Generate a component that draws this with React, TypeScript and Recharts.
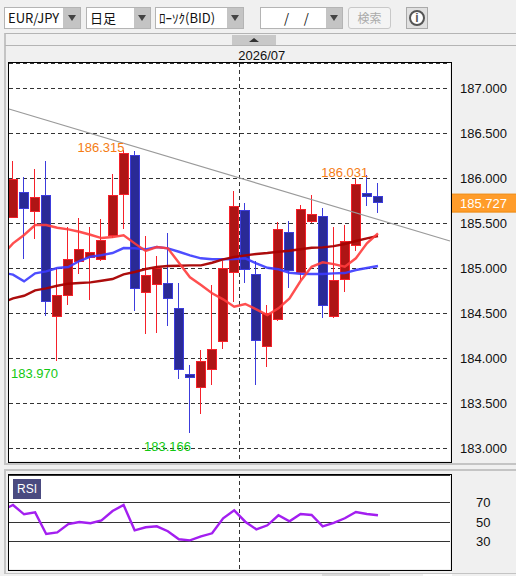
import { Bar, CartesianGrid, ComposedChart, Line, ReferenceDot, ReferenceLine, XAxis, YAxis } from 'recharts'

// index -1 sits just left of the plot, only its line segments show
const days = [-1, 0, 1, 2, 3, 4, 5, 6, 7, 8, 9, 10, 11, 12, 13, 14, 15, 16, 17, 18, 19, 20, 21, 22, 23, 24, 25, 26, 27, 28, 29, 30, 31, 32, 33]
const opens = [null, 185.563, 185.841, 185.63, 185.808, 184.463, 184.697, 185.074, 185.122, 185.097, 185.363, 185.819, 186.252, 184.73, 184.819, 184.83, 184.552, 183.819, 183.674, 183.874, 184.186, 184.952, 185.641, 184.93, 184.133, 184.43, 185.397, 184.952, 185.514, 185.574, 184.463, 184.874, 185.252, 185.83, 185.797]
const closes = [null, 185.986, 185.663, 185.786, 184.63, 184.697, 185.097, 185.208, 185.174, 185.308, 185.808, 186.274, 184.774, 184.919, 185.0, 184.663, 183.874, 183.781, 183.963, 184.097, 184.997, 185.686, 184.986, 184.197, 184.497, 185.43, 184.97, 185.652, 185.597, 184.586, 184.863, 185.297, 185.93, 185.792, 185.727]
const highs = [null, 186.189, 186.011, 186.1, 186.189, 185.0, 185.452, 185.552, 185.452, 185.544, 186.044, 186.315, 186.297, 185.356, 185.133, 185.386, 184.83, 183.922, 184.089, 184.811, 185.078, 185.856, 185.719, 185.078, 184.589, 185.514, 185.519, 185.7, 185.811, 185.663, 185.452, 185.478, 185.986, 186.031, 185.941]
const lows = [null, 185.563, 185.097, 185.326, 184.467, 183.97, 184.592, 184.933, 184.648, 185.081, 185.333, 185.437, 184.522, 184.267, 184.281, 184.356, 183.763, 183.166, 183.381, 183.7, 184.103, 184.626, 184.837, 183.703, 183.903, 184.414, 184.781, 184.867, 185.503, 184.441, 184.441, 184.737, 185.192, 185.692, 185.614]
const maShort = [185.14, 185.274, 185.367, 185.478, 185.478, 185.448, 185.43, 185.403, 185.37, 185.333, 185.344, 185.363, 185.274, 185.189, 185.233, 185.219, 185.059, 184.897, 184.811, 184.719, 184.652, 184.57, 184.6, 184.541, 184.478, 184.552, 184.663, 184.856, 185.014, 185.063, 185.044, 185.014, 185.108, 185.274, 185.386]
const maMid = [184.951, 184.926, 184.852, 184.941, 184.963, 185.0, 185.011, 185.078, 185.126, 185.144, 185.167, 185.222, 185.219, 185.208, 185.233, 185.219, 185.181, 185.141, 185.108, 185.097, 185.097, 185.1, 185.108, 185.052, 185.003, 184.986, 184.948, 184.937, 184.933, 184.933, 184.941, 184.944, 184.978, 185.0, 185.022]
const maLong = [184.611, 184.663, 184.692, 184.752, 184.774, 184.803, 184.826, 184.833, 184.841, 184.859, 184.878, 184.93, 184.956, 184.989, 185.011, 185.022, 185.026, 185.03, 185.03, 185.059, 185.097, 185.122, 185.141, 185.156, 185.167, 185.181, 185.192, 185.208, 185.226, 185.23, 185.244, 185.267, 185.3, 185.33, 185.356]
const rsi = [61.8, 67.4, 57.9, 59.9, 37.7, 39.4, 47.9, 50, 48.7, 51.7, 61.3, 67.4, 41.5, 44.6, 45.6, 40.5, 32.3, 31.2, 35.3, 38.4, 53.8, 62, 50.3, 42.5, 46.6, 56.9, 50.7, 58.2, 57.2, 45.6, 49, 53.8, 60.3, 58.2, 56.9]

const priceTicks = [183, 183.5, 184, 184.5, 185, 185.5, 186, 186.5, 187]
const rsiTicks = [30, 50, 70]
const monthTick = 20.5
const lastPrice = 185.727
const xDomain: [number, number] = [-0.362, 39.512]

const font = '"Liberation Sans", sans-serif'

const data = days.map((day, i) => ({
  day,
  open: opens[i],
  close: closes[i],
  high: highs[i],
  low: lows[i],
  range: lows[i] === null ? null : [lows[i], highs[i]],
  maShort: maShort[i],
  maMid: maMid[i],
  maLong: maLong[i],
  rsi: rsi[i],
}))

function Candle(props: any) {
  const { x, y, width, height, payload } = props
  if (payload.open === null || !height) return null
  const up = payload.close >= payload.open
  const perUnit = height / (payload.high - payload.low)
  const top = y + (payload.high - Math.max(payload.open, payload.close)) * perUnit
  const bottom = y + (payload.high - Math.min(payload.open, payload.close)) * perUnit
  const cx = Math.round(x + width / 2) - 1
  const edge = up ? '#f5212a' : '#3c3cdc'
  return (
    <g shapeRendering="crispEdges">
      <line x1={cx + 0.5} x2={cx + 0.5} y1={y} y2={y + height} stroke={edge} strokeWidth={1} />
      <rect x={cx - 4} y={Math.round(top) + 0.5} width={9} height={Math.max(Math.round(bottom - top), 2)} fill={up ? '#ae1515' : '#2a2a96'} stroke={edge} strokeWidth={1} />
    </g>
  )
}

function PriceBox(props: any) {
  const { cx, cy } = props
  return (
    <g>
      <rect x={cx + 1.5} y={cy - 8.5} width={66} height={18} fill="#ff9c2a" stroke="#ee8a10" />
      <text x={cx + 10} y={cy + 5} fill="#fff" fontSize={13} fontFamily={font}>185.727</text>
    </g>
  )
}

function Select({ left, width, arrowAt, label, center }: { left: number; width: number; arrowAt: number; label: string; center?: boolean }) {
  return (
    <div style={{ position: 'absolute', left, top: 7, width, height: 20, border: '1px solid #b4b4b4', background: '#fff', boxSizing: 'content-box' }}>
      <div style={{ position: 'absolute', left: 3, top: 2, fontSize: 13, lineHeight: '16px', whiteSpace: 'pre', textAlign: center ? 'center' : 'left', width: center ? arrowAt : undefined, fontFamily: '"Noto Sans CJK JP", ' + font }}>{label}</div>
      <div style={{ position: 'absolute', left: arrowAt, top: 0, width: width - arrowAt, height: 20, background: '#c4c4c4' }}>
        <div style={{ position: 'absolute', left: (width - arrowAt) / 2 - 4, top: 7, width: 0, height: 0, borderLeft: '4px solid transparent', borderRight: '4px solid transparent', borderTop: '6px solid #444' }} />
      </div>
    </div>
  )
}

export default function App() {
  return (
    <div style={{ position: 'fixed', left: 0, top: 0, width: 516, height: 576, background: '#f0f0f0', overflow: 'hidden', fontFamily: font, color: '#111' }}>
      <Select left={4} width={75} arrowAt={58} label="EUR/JPY" />
      <Select left={86} width={63} arrowAt={47} label="日足" />
      <Select left={155} width={87} arrowAt={71} label="ﾛｰｿｸ(BID)" />
      <Select left={260} width={81} arrowAt={65} label="/     /" center />
      <div style={{ position: 'absolute', left: 348, top: 7, width: 41, height: 20, border: '1px solid #c8c8c8', borderRadius: 3, background: '#f4f4f4', color: '#aaa', fontSize: 12, lineHeight: '20px', textAlign: 'center', fontFamily: '"Noto Sans CJK JP", ' + font }}>検索</div>
      <div style={{ position: 'absolute', left: 406, top: 7, width: 20, height: 20, border: '1px solid #aaa', background: '#e0e0e0' }}>
        <div style={{ position: 'absolute', left: 2, top: 2, width: 12, height: 12, border: '2px solid #555', borderRadius: 8, background: '#fff', color: '#555', fontSize: 12, fontWeight: 700, lineHeight: '12px', textAlign: 'center' }}>i</div>
      </div>

      {/* panel frames */}
      <div style={{ position: 'absolute', left: 4, top: 33, width: 512, height: 432, borderTop: '1px solid #b4b4b4', borderLeft: '2px solid #c4c4c4', borderBottom: '2px solid #c4c4c4', boxSizing: 'border-box' }} />
      <div style={{ position: 'absolute', left: 5, top: 45, width: 511, height: 1, background: '#b4b4b4' }} />
      <div style={{ position: 'absolute', left: 232, top: 35, width: 44, height: 10, background: '#c8c8c8' }}>
        <div style={{ position: 'absolute', left: 17, top: 3, width: 0, height: 0, borderLeft: '5px solid transparent', borderRight: '5px solid transparent', borderBottom: '4px solid #333' }} />
      </div>
      <div style={{ position: 'absolute', left: 4, top: 469, width: 512, height: 105, borderTop: '2px solid #c4c4c4', borderLeft: '2px solid #c4c4c4', borderBottom: '1px solid #c4c4c4', boxSizing: 'border-box' }} />
      <div style={{ position: 'absolute', left: 322, top: 574, width: 68, height: 2, background: '#d8d8d8' }} />
      <div style={{ position: 'absolute', left: 423, top: 574, width: 29, height: 2, background: '#fff' }} />

      <div style={{ position: 'absolute', left: 9, top: 63, width: 441, height: 398, background: '#fff' }} />
      <div style={{ position: 'absolute', left: 9, top: 475, width: 441, height: 94, background: '#fff' }} />

      <div style={{ position: 'absolute', left: 0, top: 46 }}>
        <ComposedChart width={516} height={415} data={data} margin={{ top: 0, right: 0, bottom: 0, left: 9 }} style={{ fontFamily: font }}>
          <CartesianGrid vertical={false} stroke="#333" strokeDasharray="4 3" shapeRendering="crispEdges" />
          <XAxis dataKey="day" type="number" orientation="top" domain={xDomain} allowDataOverflow ticks={[monthTick]} tickFormatter={() => '2026/07'} height={17} axisLine={false} tickLine={false} tickMargin={0} tick={{ fill: '#111', fontSize: 13, dx: 22, dy: 3 }} />
          <YAxis orientation="right" domain={[182.856, 187.278]} allowDataOverflow ticks={priceTicks} tickFormatter={(v: number) => v.toFixed(3)} width={66} interval={0} axisLine={false} tickLine={false} tickMargin={4} tick={{ fill: '#111', fontSize: 13 }} />
          <ReferenceLine x={monthTick} stroke="#333" strokeDasharray="4 3" shapeRendering="crispEdges" />
          <ReferenceLine segment={[{ x: -0.362, y: 186.767 }, { x: 39.512, y: 185.3 }]} stroke="#9a9a9a" strokeWidth={1.2} />
          <Bar dataKey="range" barSize={9} shape={Candle} isAnimationActive={false} />
          <Line dataKey="maMid" stroke="#3a3aff" strokeWidth={2.4} strokeOpacity={0.9} dot={false} isAnimationActive={false} />
          <Line dataKey="maLong" stroke="#a80000" strokeWidth={2.4} strokeOpacity={0.95} dot={false} isAnimationActive={false} />
          <Line dataKey="maShort" stroke="#ff3c3c" strokeWidth={2.4} strokeOpacity={0.9} dot={false} isAnimationActive={false} />
          <ReferenceDot x={7.96} y={186.344} r={0} label={{ value: '186.315', position: 'center', fill: '#f57c14', fontSize: 13 }} />
          <ReferenceDot x={30} y={186.067} r={0} label={{ value: '186.031', position: 'center', fill: '#f57c14', fontSize: 13 }} />
          <ReferenceDot x={1.94} y={183.833} r={0} label={{ value: '183.970', position: 'center', fill: '#12c812', fontSize: 13 }} />
          <ReferenceDot x={13.97} y={183.022} r={0} label={{ value: '183.166', position: 'center', fill: '#12c812', fontSize: 13 }} />
          <ReferenceDot x={39.512} y={lastPrice} ifOverflow="visible" shape={PriceBox} />
        </ComposedChart>
      </div>
      <div style={{ position: 'absolute', left: 8, top: 62, width: 442, height: 399, border: '1px solid #000', pointerEvents: 'none' }} />

      <div style={{ position: 'absolute', left: 0, top: 475 }}>
        <ComposedChart width={516} height={94} data={data} margin={{ top: 0, right: 0, bottom: 0, left: 9 }} style={{ fontFamily: font }}>
          <CartesianGrid vertical={false} stroke="#333" shapeRendering="crispEdges" />
          <XAxis dataKey="day" type="number" hide domain={xDomain} allowDataOverflow />
          <YAxis orientation="right" domain={[1.8, 98.2]} allowDataOverflow ticks={rsiTicks} width={66} interval={0} axisLine={false} tickLine={false} tickMargin={20} tick={{ fill: '#111', fontSize: 13 }} />
          <ReferenceLine x={monthTick} stroke="#333" strokeDasharray="4 3" shapeRendering="crispEdges" />
          <Line dataKey="rsi" stroke="#a31ff0" strokeWidth={2.4} dot={false} isAnimationActive={false} />
        </ComposedChart>
      </div>
      <div style={{ position: 'absolute', left: 8, top: 474, width: 442, height: 95, border: '1px solid #000', pointerEvents: 'none' }} />
      <div style={{ position: 'absolute', left: 13, top: 479, width: 28, height: 20, background: '#4a4a80', color: '#fff', fontSize: 12, lineHeight: '20px', textAlign: 'center' }}>RSI</div>
    </div>
  )
}
